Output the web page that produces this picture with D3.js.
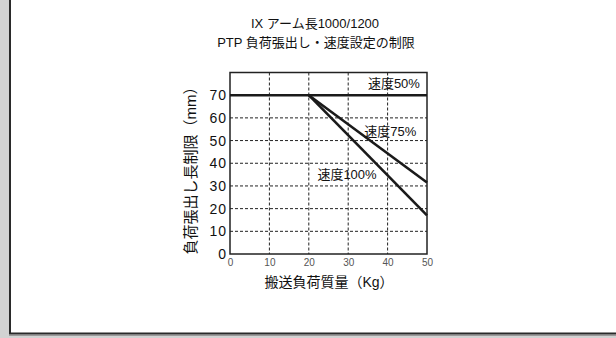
<!DOCTYPE html>
<html><head><meta charset="utf-8">
<script src="https://cdn.jsdelivr.net/npm/d3@7"></script>
<style>body{margin:0;background:#d2d2d2;} svg{display:block;}</style>
</head><body>
<script>
const titleLines = ["IX アーム長1000/1200", "PTP 負荷張出し・速度設定の制限"];
const xTicks = [0, 10, 20, 30, 40, 50];
const yTicks = [0, 10, 20, 30, 40, 50, 60, 70];
const xTitle = "搬送負荷質量（Kg）";
const yTitle = "負荷張出し長制限（mm）";
const seriesNames = ["速度50%", "速度75%", "速度100%"];
const series50 = [[0, 70], [20, 70], [50, 70]];
const series75 = [[20, 70], [50, 31.5]];
const series100 = [[20, 70], [50, 17]];
const labelPos = [[41.6, 75], [40.7, 54.2], [29.7, 35.2]];

const W = 616, H = 338;
const svg = d3.select("body").append("svg").attr("width", W).attr("height", H);
svg.append("rect").attr("width", W).attr("height", H).attr("fill", "#d2d2d2");
svg.append("rect").attr("x", 11).attr("y", 0).attr("width", W - 11).attr("height", 333).attr("fill", "#fff");
svg.append("line").attr("x1", 10).attr("x2", 10).attr("y1", 0).attr("y2", 334).attr("stroke", "#2a2a2a").attr("stroke-width", 2);
svg.append("line").attr("x1", 9).attr("x2", W).attr("y1", 333.5).attr("y2", 333.5).attr("stroke", "#2a2a2a").attr("stroke-width", 2);
svg.append("line").attr("x1", 9).attr("x2", W).attr("y1", 335.5).attr("y2", 335.5).attr("stroke", "#9a9a9a").attr("stroke-width", 1);

const font = "'Liberation Sans', 'Noto Sans CJK JP', sans-serif";
const x = d3.scaleLinear().domain([0, 50]).range([230, 427]);
const y = d3.scaleLinear().domain([0, 80]).range([254, 72.5]);

// title
svg.append("text").attr("x", 315).attr("y", 28).attr("text-anchor", "middle")
  .attr("font-family", font).attr("font-size", 13).attr("fill", "#111").text(titleLines[0]);
svg.append("text").attr("x", 316).attr("y", 47).attr("text-anchor", "middle")
  .attr("font-family", font).attr("font-size", 13).attr("fill", "#111").text(titleLines[1]);

// grid
const g = svg.append("g");
g.selectAll(".vg").data(xTicks.filter(d => d > 0 && d < 50)).join("line")
  .attr("x1", d => x(d)).attr("x2", d => x(d)).attr("y1", y(80)).attr("y2", y(0))
  .attr("stroke", "#222").attr("stroke-width", 1).attr("stroke-dasharray", "3,2");
g.selectAll(".hg").data(yTicks.filter(d => d > 0 && d < 70)).join("line")
  .attr("x1", x(0)).attr("x2", x(50)).attr("y1", d => y(d)).attr("y2", d => y(d))
  .attr("stroke", "#222").attr("stroke-width", 1).attr("stroke-dasharray", "3,2");

// frame
svg.append("rect").attr("x", x(0)).attr("y", y(80)).attr("width", x(50) - x(0)).attr("height", y(0) - y(80))
  .attr("fill", "none").attr("stroke", "#222").attr("stroke-width", 1.5);

// axes
const xAxis = svg.append("g").attr("transform", `translate(0,${y(0)})`)
  .call(d3.axisBottom(x).tickValues(xTicks).tickSize(0).tickPadding(5));
xAxis.select(".domain").remove();
xAxis.selectAll("text").attr("font-family", font).attr("font-size", 10).attr("fill", "#555");
const yAxis = svg.append("g").attr("transform", `translate(${x(0)},0)`)
  .call(d3.axisLeft(y).tickValues(yTicks).tickSize(0).tickPadding(3));
yAxis.select(".domain").remove();
yAxis.selectAll("text").attr("font-family", font).attr("font-size", 14).attr("fill", "#111")
  .attr("letter-spacing", "1px");

// lines
const line = d3.line().x(d => x(d[0])).y(d => y(d[1]));
[series50, series75, series100].forEach(s => {
  svg.append("path").attr("d", line(s)).attr("fill", "none").attr("stroke", "#1a1a1a").attr("stroke-width", 2.6);
});

// labels
seriesNames.forEach((n, i) => {
  svg.append("text").attr("x", x(labelPos[i][0])).attr("y", y(labelPos[i][1]))
    .attr("text-anchor", "middle").attr("dominant-baseline", "central")
    .attr("font-family", font).attr("font-size", 13).attr("fill", "#111")
    .text(n);
});

// axis titles
svg.append("text").attr("x", 329).attr("y", 287).attr("text-anchor", "middle")
  .attr("font-family", font).attr("font-size", 14).attr("fill", "#111").text(xTitle);
svg.append("text").attr("transform", "translate(196,167) rotate(-90)").attr("text-anchor", "middle")
  .attr("font-family", font).attr("font-size", 15).attr("fill", "#111").text(yTitle);
</script>
</body></html>
